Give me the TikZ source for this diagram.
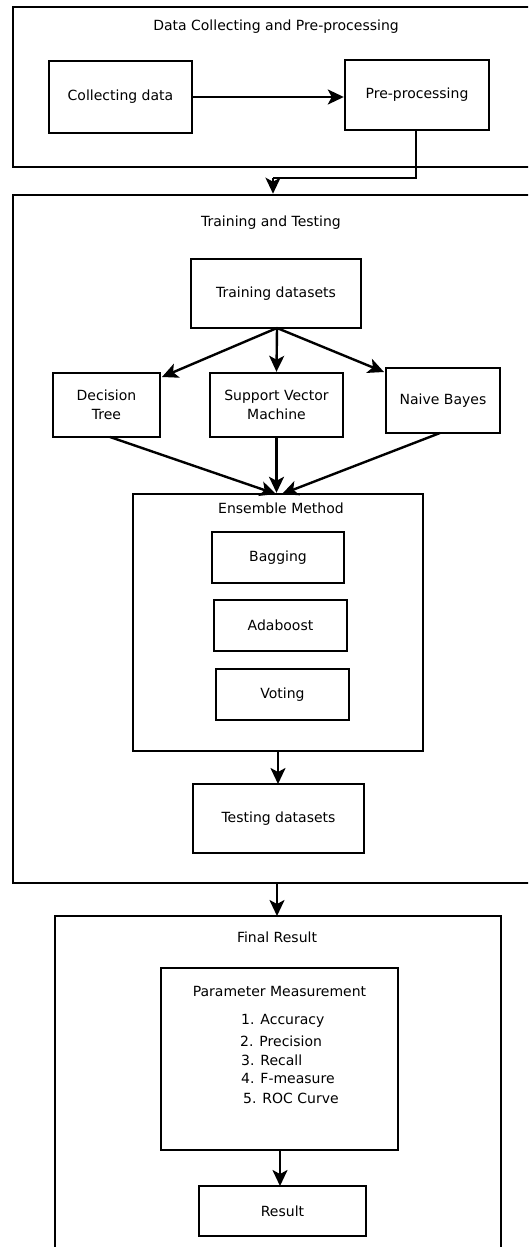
\documentclass[tikz,border=0pt]{standalone}
\usepackage{fontspec}
\setmainfont{DejaVu Sans}
\usetikzlibrary{arrows.meta}
\begin{document}
\begin{tikzpicture}[x=1pt,y=-1pt,
  every node/.style={font=\fontsize{14}{19}\selectfont, inner sep=0pt},
  box/.style={draw=black, line width=2.4pt, fill=none, align=center},
  big/.style={draw=black, line width=2.6pt},
  lbl/.style={align=center},
  arr/.style={line width=2.4pt, -{Stealth[length=16pt,width=15pt,inset=4pt]}},
  seg/.style={line width=2.4pt}]
\useasboundingbox (0,0) rectangle (528,1247);
\clip (0,0) rectangle (528,1247);
% stage 1
\node[big, minimum width=527pt, minimum height=160pt] (stage1) at (276.5,87) {};
\node[lbl] (t1) at (276,27) {Data Collecting and Pre-processing};
\node[box, minimum width=143pt, minimum height=72pt] (collect) at (120.5,97) {Collecting data};
\node[box, minimum width=144pt, minimum height=70pt] (prep) at (417,95) {Pre-processing};
\draw[arr] (collect.east) -- (collect.east -| prep.west);
% stage 2
\node[big, minimum width=527pt, minimum height=688pt] (stage2) at (276.5,539) {};
\node[lbl] (t2) at (271,223) {Training and Testing};
\coordinate (bend1) at (416,178);
\coordinate (bend2) at (273,178);
\draw[seg] (prep.south -| bend1) -- (bend1) -- (bend2);
\draw[arr] (bend2) -- (bend2 |- stage2.north);
\node[box, minimum width=170pt, minimum height=69pt] (train) at (276,293.5) {Training datasets};
\node[box, minimum width=107pt, minimum height=64pt] (dt) at (106.5,405) {Decision\\Tree};
\node[box, minimum width=133pt, minimum height=64pt] (svm) at (276.5,405) {Support Vector\\Machine};
\node[box, minimum width=114pt, minimum height=65pt] (nb) at (443,400.5) {Naive Bayes};
\coordinate (tr) at (277,328);
\draw[arr] (tr) -- (162,377);
\draw[arr] (tr) -- (svm.north);
\draw[arr] (tr) -- (384,372);
\node[box, minimum width=290pt, minimum height=257pt] (ens) at (278,622.5) {};
\node[lbl] (t3) at (281,508) {Ensemble Method};
\draw[arr] (110,437) -- (276,494);
\draw[arr] (svm.south) -- (svm.south |- ens.north);
\draw[arr] (440,433) -- (282,494);
\node[box, minimum width=132pt, minimum height=51pt] (bag) at (278,557.5) {Bagging};
\node[box, minimum width=133pt, minimum height=51pt] (ada) at (280.5,625.5) {Adaboost};
\node[box, minimum width=133pt, minimum height=51pt] (vote) at (282.5,694.5) {Voting};
\node[box, minimum width=171pt, minimum height=69pt] (test) at (278.5,818.5) {Testing datasets};
\draw[arr] (278,751) -- (278,784);
% stage 3
\node[big, minimum width=446pt, minimum height=344pt] (stage3) at (278,1088) {};
\draw[arr] (277,883) -- (277,916);
\node[lbl] (t4) at (277,937) {Final Result};
\node[box, minimum width=237pt, minimum height=182pt] (param) at (279.5,1059) {};
\node[lbl] (pm) at (279.5,991) {Parameter Measurement};
\node[anchor=west] (l1) at (241,1021) {1. Accuracy};
\node[anchor=west] (l2) at (240,1041) {2. Precision};
\node[anchor=west] (l3) at (241,1060) {3. Recall};
\node[anchor=west] (l4) at (241,1078) {4. F-measure};
\node[anchor=west] (l5) at (243,1098) {5. ROC Curve};
\node[box, minimum width=167pt, minimum height=50pt] (res) at (282.5,1211) {Result};
\draw[arr] (280,1150) -- (280,1186);
\end{tikzpicture}
\end{document}
